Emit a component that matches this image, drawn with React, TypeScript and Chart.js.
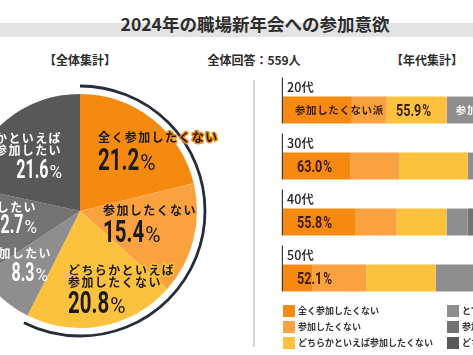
import React, { useEffect, useRef } from 'react';
import { Chart, registerables } from 'chart.js';

Chart.register(...registerables);

// ---------- data ----------
const titleText = '2024年の職場新年会への参加意欲';
const totalRespondents = 559;
const answerLabels = [
  '全く参加したくない',
  '参加したくない',
  'どちらかといえば参加したくない',
  'とても参加したい',
  '参加したい',
  'どちらかといえば参加したい',
];
const answerColors = ['#F6890F', '#F9A23F', '#FCC23D', '#8E8E8E', '#737373', '#585858'];
const overallValues = [21.2, 15.4, 20.8, 8.3, 12.7, 21.6];

const ageGroups = ['20代', '30代', '40代', '50代'];
const notAtAll = [23.5, 22.9, 24.6, 10.1];
const notWant = [11.9, 16.9, 14.2, 18.3];
const ratherNot = [20.5, 23.2, 17.0, 23.7];
const veryWant = [10.4, 5.2, 7.2, 14.0];
const want = [14.1, 12.3, 13.5, 12.4];
const ratherWant = [19.6, 19.5, 23.5, 21.5];
const ageSeries = [notAtAll, notWant, ratherNot, veryWant, want, ratherWant];

// ---------- styling helpers ----------
const NUMFONT = 'Roboto, "DejaVu Sans", sans-serif';
const JP = '"Noto Sans CJK JP", "Noto Sans", sans-serif';

// label placement relative to pie centre (text layout only)
const pieLabelLayout = [
  { dx: 18, ly: -74, nx: 18, ny: -41, align: 'left', color: '#1b1b1b', glow: true, ns: 32, ps: 22 },
  { dx: 23, ly: -1, nx: 23, ny: 31, align: 'left', color: '#1b1b1b', glow: true, ns: 32, ps: 22 },
  { dx: -12, ly: 59, nx: -12, ny: 102, align: 'left', color: '#1b1b1b', glow: true, ns: 32, ps: 22 },
  { dx: -28, ly: 42, nx: -32, ny: 70, align: 'right', color: '#ffffff', glow: false, ns: 25, ps: 18 },
  { dx: -43, ly: -4, nx: -43, ny: 22, align: 'right', color: '#ffffff', glow: false, ns: 25, ps: 18 },
  { dx: -18, ly: -73, nx: -18, ny: -33, align: 'right', color: '#ffffff', glow: false, ns: 25, ps: 18 },
];

function splitLabel(s: string): string[] {
  const p = 'どちらかといえば';
  return s.startsWith(p) ? [p, s.slice(p.length)] : [s];
}

type PctOpts = {
  numSize: number;
  pctSize: number;
  pctWeight: string;
  align: string;
  color: string;
  scaleX: number;
  pctScaleX: number;
};

function drawPercent(ctx: CanvasRenderingContext2D, value: number, x: number, y: number, o: PctOpts) {
  const num = value.toFixed(1);
  ctx.save();
  (ctx as any).letterSpacing = '0px';
  ctx.textBaseline = 'alphabetic';
  ctx.textAlign = 'left';
  ctx.font = `bold ${o.numSize}px ${NUMFONT}`;
  const w1 = ctx.measureText(num).width * o.scaleX;
  ctx.font = `${o.pctWeight} ${o.pctSize}px ${NUMFONT}`;
  const w2 = ctx.measureText('%').width * o.pctScaleX;
  const start = o.align === 'right' ? x - w1 - w2 - 1 : x;
  ctx.fillStyle = o.color;
  ctx.save();
  ctx.translate(start, y);
  ctx.scale(o.scaleX, 1);
  ctx.font = `bold ${o.numSize}px ${NUMFONT}`;
  ctx.fillText(num, 0, 0);
  ctx.restore();
  ctx.save();
  ctx.translate(start + w1 + 1, y);
  ctx.scale(o.pctScaleX, 1);
  ctx.font = `${o.pctWeight} ${o.pctSize}px ${NUMFONT}`;
  ctx.fillText('%', 0, 0);
  ctx.restore();
  ctx.restore();
  return w1 + w2 + 1;
}

const pieDecor = {
  id: 'pieDecor',
  afterDraw(chart: any) {
    const ctx: CanvasRenderingContext2D = chart.ctx;
    const arcs: any[] = chart.getDatasetMeta(0).data;
    const cx = arcs[0].x;
    const cy = arcs[0].y;
    const r = arcs[0].outerRadius;
    // ring around the "not participating" side
    ctx.save();
    ctx.beginPath();
    ctx.arc(cx, cy, r + 8, arcs[0].startAngle, arcs[2].endAngle);
    ctx.lineWidth = 2.8;
    ctx.strokeStyle = '#252c3a';
    ctx.stroke();
    ctx.restore();

    pieLabelLayout.forEach((lay, i) => {
      const lines = splitLabel(answerLabels[i]);
      ctx.save();
      ctx.font = `bold 12px ${JP}`;
      (ctx as any).letterSpacing = '1.4px';
      ctx.textBaseline = 'middle';
      ctx.textAlign = lay.align as CanvasTextAlign;
      lines.forEach((line, k) => {
        const tx = cx + lay.dx;
        const ty = cy + lay.ly + k * 12.5;
        if (lay.glow) {
          ctx.strokeStyle = answerColors[i];
          ctx.lineWidth = 3;
          ctx.lineJoin = 'round';
          ctx.strokeText(line, tx, ty);
        }
        ctx.fillStyle = lay.color;
        ctx.fillText(line, tx, ty);
      });
      ctx.restore();
      drawPercent(ctx, overallValues[i], cx + lay.nx, cy + lay.ny, {
        numSize: lay.ns,
        pctSize: lay.ps,
        pctWeight: 'normal',
        align: lay.align,
        color: lay.color,
        scaleX: 0.64,
        pctScaleX: 0.95,
      });
    });
  },
};

const barDecor = {
  id: 'barDecor',
  afterDatasetsDraw(chart: any) {
    const ctx: CanvasRenderingContext2D = chart.ctx;
    const first: any[] = chart.getDatasetMeta(0).data;
    const third: any[] = chart.getDatasetMeta(2).data;
    ageGroups.forEach((age, i) => {
      const bar = first[i];
      const left = bar.base;
      const top = bar.y - bar.height / 2;
      const bottom = bar.y + bar.height / 2;
      ctx.save();
      ctx.strokeStyle = '#3a3a3a';
      ctx.lineWidth = 1.2;
      ctx.beginPath();
      ctx.moveTo(left - 0.6, top - 19);
      ctx.lineTo(left - 0.6, bottom);
      ctx.stroke();

      ctx.fillStyle = '#222';
      ctx.font = `500 12.5px ${JP}`;
      ctx.textBaseline = 'middle';
      ctx.textAlign = 'left';
      ctx.fillText(age, left + 4, top - 9.5);

      const share = notAtAll[i] + notWant[i] + ratherNot[i];
      const pctOpts: PctOpts = {
        numSize: 17,
        pctSize: 16,
        pctWeight: 'bold',
        align: 'left',
        color: '#3d1a05',
        scaleX: 0.74,
        pctScaleX: 0.74,
      };
      if (i === 0) {
        ctx.font = `bold 10.5px ${JP}`;
        (ctx as any).letterSpacing = '0.6px';
        ctx.fillStyle = '#3d1a05';
        ctx.fillText('参加したくない派', left + 12, bar.y);
        drawPercent(ctx, share, left + 113, bar.y + 6, pctOpts);
        const gx = third[i].x + 9;
        ctx.fillStyle = '#ffffff';
        ctx.fillText('参加したい派', gx, bar.y);
        const w = ctx.measureText('参加したい派').width;
        drawPercent(ctx, 100 - share, gx + w + 6, bar.y + 6, { ...pctOpts, color: '#ffffff' });
      } else {
        drawPercent(ctx, share, left + 14, bar.y + 6, pctOpts);
      }
      ctx.restore();
    });
  },
};

export default function App() {
  const pieRef = useRef<HTMLCanvasElement>(null);
  const barRef = useRef<HTMLCanvasElement>(null);

  useEffect(() => {
    document.body.style.margin = '0';
    const pie = new Chart(pieRef.current as HTMLCanvasElement, {
      type: 'pie',
      data: {
        labels: answerLabels,
        datasets: [{ data: overallValues, backgroundColor: answerColors, borderWidth: 0 }],
      },
      options: {
        responsive: false,
        maintainAspectRatio: false,
        animation: false,
        layout: { padding: { left: 18, right: 48, top: 18, bottom: 18 } },
        plugins: { legend: { display: false }, tooltip: { enabled: false } },
      },
      plugins: [pieDecor],
    } as any);

    const bar = new Chart(barRef.current as HTMLCanvasElement, {
      type: 'bar',
      data: {
        labels: ageGroups,
        datasets: ageSeries.map((d, j) => ({
          label: answerLabels[j],
          data: d,
          backgroundColor: answerColors[j],
          borderWidth: 0,
          categoryPercentage: 1,
          barPercentage: 0.48,
        })),
      },
      options: {
        indexAxis: 'y',
        responsive: false,
        maintainAspectRatio: false,
        animation: false,
        layout: { padding: { left: 29, right: 18, top: 12, bottom: 49 } },
        scales: {
          x: { stacked: true, min: 0, max: 100, display: false },
          y: { stacked: true, display: false },
        },
        plugins: { legend: { display: false }, tooltip: { enabled: false } },
      },
      plugins: [barDecor],
    } as any);

    return () => {
      pie.destroy();
      bar.destroy();
    };
  }, []);

  const legendCols = [283, 447];
  const legendRows = [305, 321, 337];

  return (
    <div
      style={{
        position: 'fixed',
        left: 0,
        top: 0,
        width: 473,
        height: 355,
        overflow: 'hidden',
        background: '#ffffff',
        fontFamily: JP,
        color: '#2d2d2d',
      }}
    >
      <div style={{ position: 'absolute', left: 0, top: 23, width: 473, height: 14, background: '#e3e3e3' }} />
      <div
        style={{
          position: 'absolute',
          left: 0,
          top: 11,
          width: 510,
          textAlign: 'center',
          fontSize: 17.5,
          fontWeight: 700,
          lineHeight: '26px',
          color: '#2d2d2d',
        }}
      >
        {titleText}
      </div>
      {[
        { t: '【全体集計】', x: 80 },
        { t: `全体回答：${totalRespondents}人`, x: 254 },
        { t: '【年代集計】', x: 427 },
      ].map((h) => (
        <div
          key={h.t}
          style={{
            position: 'absolute',
            left: h.x - 80,
            top: 51,
            width: 160,
            textAlign: 'center',
            fontSize: 12,
            fontWeight: 700,
            lineHeight: '18px',
            color: '#2d2d2d',
          }}
        >
          {h.t}
        </div>
      ))}
      <div style={{ position: 'absolute', left: 253, top: 80, width: 2, height: 267, background: '#d6d6d6' }} />
      <canvas
        ref={pieRef}
        width={300}
        height={270}
        style={{ position: 'absolute', left: -55, top: 76, width: 300, height: 270, display: 'block' }}
      />
      <canvas
        ref={barRef}
        width={340}
        height={285}
        style={{ position: 'absolute', left: 254, top: 70, width: 340, height: 285, display: 'block' }}
      />
      {answerLabels.map((lab, j) => (
        <div
          key={lab}
          style={{
            position: 'absolute',
            left: legendCols[Math.floor(j / 3)],
            top: legendRows[j % 3],
            height: 12,
            display: 'flex',
            alignItems: 'center',
            whiteSpace: 'nowrap',
          }}
        >
          <div style={{ width: 12, height: 12, background: answerColors[j], marginRight: 3 }} />
          <span style={{ fontSize: 9, fontWeight: 700, color: '#333', lineHeight: '12px' }}>{lab}</span>
        </div>
      ))}
    </div>
  );
}
